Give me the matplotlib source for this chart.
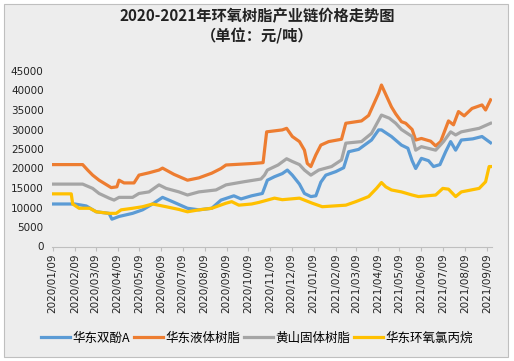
import matplotlib
matplotlib.use("Agg")
import matplotlib.pyplot as plt
import pandas as pd
from matplotlib.patches import Rectangle

plt.rcParams['font.family'] = ['Noto Sans CJK SC', 'DejaVu Sans']

title = "2020-2021年环氧树脂产业链价格走势图\n（单位：元/吨）"
series_names = ["华东双酚A", "华东液体树脂", "黄山固体树脂", "华东环氧氯丙烷"]
colors = ["#5B9BD5", "#ED7D31", "#A5A5A5", "#FFC000"]

bpa_dates = ["2020-01-09", "2020-02-09", "2020-02-25", "2020-03-10", "2020-03-28", "2020-04-01",
             "2020-04-11", "2020-04-30", "2020-05-14", "2020-05-28", "2020-06-11", "2020-06-25",
             "2020-07-16", "2020-08-01", "2020-08-19", "2020-09-01", "2020-09-19", "2020-09-29",
             "2020-10-14", "2020-10-29", "2020-11-05", "2020-11-15", "2020-11-26", "2020-12-03",
             "2020-12-10", "2020-12-20", "2020-12-27", "2021-01-05", "2021-01-12", "2021-01-19",
             "2021-01-26", "2021-02-09", "2021-02-20", "2021-02-27", "2021-03-13", "2021-03-31",
             "2021-04-10", "2021-04-14", "2021-04-28", "2021-05-12", "2021-05-21", "2021-05-27",
             "2021-06-01", "2021-06-09", "2021-06-19", "2021-06-26", "2021-07-05", "2021-07-13",
             "2021-07-20", "2021-07-27", "2021-08-04", "2021-08-20", "2021-09-02", "2021-09-14"]
bpa_values = [10900, 10900, 10400, 8900, 8500, 7000,
              7700, 8500, 9400, 10900, 12600, 11500,
              9800, 9400, 9800, 11900, 13000, 12200,
              13000, 13600, 17000, 17900, 18700, 19600,
              18300, 16000, 13600, 12800, 13000, 16500,
              18300, 19200, 20200, 24300, 24900, 27300,
              29900, 29900, 28200, 26000, 25200, 22000,
              20000, 22600, 22000, 20500, 21000, 24300,
              26900, 24700, 27300, 27600, 28200, 26600]

liq_dates = ["2020-01-09", "2020-02-20", "2020-02-27", "2020-03-05", "2020-03-14", "2020-03-31",
             "2020-04-08", "2020-04-11", "2020-04-18", "2020-05-02", "2020-05-09", "2020-05-23",
             "2020-06-06", "2020-06-11", "2020-06-27", "2020-07-16", "2020-08-01", "2020-08-19",
             "2020-09-01", "2020-09-08", "2020-10-17", "2020-10-30", "2020-11-04", "2020-11-26",
             "2020-12-02", "2020-12-10", "2020-12-20", "2020-12-27", "2020-12-31", "2021-01-05",
             "2021-01-12", "2021-01-19", "2021-01-30", "2021-02-17", "2021-02-23", "2021-03-17",
             "2021-03-27", "2021-04-10", "2021-04-14", "2021-04-20", "2021-04-28", "2021-05-04",
             "2021-05-12", "2021-05-18", "2021-05-27", "2021-06-01", "2021-06-09", "2021-06-22",
             "2021-06-29", "2021-07-06", "2021-07-17", "2021-07-24", "2021-07-31", "2021-08-08",
             "2021-08-19", "2021-09-02", "2021-09-07", "2021-09-14"]
liq_values = [21000, 21000, 19600, 18300, 17000, 15100,
              15300, 17000, 16300, 16300, 18300, 18900,
              19600, 20100, 18500, 17000, 17600, 18800,
              20000, 20900, 21300, 21500, 29400, 29900,
              30300, 28200, 26900, 24700, 21300, 20500,
              23500, 26000, 26900, 27500, 31600, 32200,
              33600, 39300, 41400, 39000, 35800, 34000,
              32000, 31600, 30000, 27300, 27700, 27000,
              25800, 26900, 32200, 31200, 34600, 33500,
              35400, 36300, 35000, 37600]

sol_dates = ["2020-01-09", "2020-02-20", "2020-03-05", "2020-03-14", "2020-03-28", "2020-04-04",
             "2020-04-11", "2020-04-30", "2020-05-09", "2020-05-23", "2020-06-06", "2020-06-16",
             "2020-07-04", "2020-07-16", "2020-08-01", "2020-08-25", "2020-09-08", "2020-10-03",
             "2020-10-27", "2020-11-01", "2020-11-05", "2020-11-20", "2020-12-02", "2020-12-10",
             "2020-12-20", "2020-12-27", "2021-01-05", "2021-01-16", "2021-02-03", "2021-02-17",
             "2021-02-23", "2021-03-17", "2021-03-31", "2021-04-14", "2021-04-25", "2021-05-04",
             "2021-05-12", "2021-05-27", "2021-06-01", "2021-06-09", "2021-06-29", "2021-07-10",
             "2021-07-20", "2021-07-27", "2021-08-04", "2021-08-29", "2021-09-14"]
sol_values = [16000, 16000, 14900, 13600, 12400, 11900,
              12600, 12600, 13600, 14000, 15800, 14900,
              14000, 13200, 14000, 14500, 15800, 16600,
              17300, 18300, 19600, 20900, 22500, 21800,
              21000, 19600, 18300, 19600, 20500, 22200,
              26500, 26900, 29000, 33700, 32900, 31600,
              30000, 28200, 24700, 25600, 24700, 26900,
              29400, 28600, 29400, 30300, 31600]

ech_dates = ["2020-01-09", "2020-02-04", "2020-02-06", "2020-02-15", "2020-03-01", "2020-03-10",
             "2020-03-28", "2020-04-07", "2020-04-14", "2020-04-30", "2020-05-14", "2020-05-28",
             "2020-06-16", "2020-07-04", "2020-07-16", "2020-08-01", "2020-08-19", "2020-09-08",
             "2020-09-16", "2020-09-26", "2020-10-14", "2020-10-24", "2020-11-15", "2020-11-26",
             "2020-12-20", "2021-01-07", "2021-01-21", "2021-02-23", "2021-03-09", "2021-03-27",
             "2021-04-07", "2021-04-14", "2021-04-20", "2021-04-28", "2021-05-12", "2021-05-27",
             "2021-06-05", "2021-06-29", "2021-07-09", "2021-07-17", "2021-07-27", "2021-08-04",
             "2021-08-29", "2021-09-07", "2021-09-12", "2021-09-14"]
ech_values = [13500, 13500, 10900, 9800, 9800, 8900,
              8500, 8500, 9400, 9800, 10200, 10900,
              10200, 9500, 8900, 9400, 9800, 11100,
              11500, 10600, 10900, 11300, 12400, 12000,
              12400, 11100, 10200, 10600, 11500, 12800,
              14900, 16400, 15300, 14500, 14000, 13200,
              12800, 13200, 14900, 14700, 12800, 14000,
              14900, 16600, 20500, 20500]

tick_dates = pd.date_range("2020-01-01", "2021-09-01", freq="MS") + pd.Timedelta(days=8)
y_ticks = list(range(0, 45001, 5000))

fig = plt.figure(figsize=(5.14, 3.61), dpi=100)
fig.patch.set_facecolor("white")
bg = Rectangle((4 / 514, 4 / 361), 504 / 514, 353 / 361, transform=fig.transFigure,
               facecolor="#EDEDED", edgecolor="#BFBFBF", linewidth=0.8, zorder=-10)
fig.add_artist(bg)

ax = fig.add_axes([52 / 514, 1 - 246.5 / 361, 440 / 514, 175.5 / 361])
ax.set_facecolor("none")
ax.set_zorder(5)

all_dates = [bpa_dates, liq_dates, sol_dates, ech_dates]
all_values = [bpa_values, liq_values, sol_values, ech_values]
for d, v, name, c in zip(all_dates, all_values, series_names, colors):
    ax.plot(pd.to_datetime(d), v, color=c, linewidth=2.3, label=name, solid_joinstyle="round")

ax.set_ylim(0, 45000)
ax.set_yticks(y_ticks)
ax.set_yticklabels([str(t) for t in y_ticks], fontsize=7.5, family="DejaVu Sans", color="#222222")
ax.set_xlim(pd.Timestamp("2020-01-08"), pd.Timestamp("2021-09-16"))
ax.set_xticks(tick_dates)
ax.set_xticklabels([t.strftime("%Y/%m/%d") for t in tick_dates], rotation=90, fontsize=7.5,
                   family="DejaVu Sans", color="#222222")

for s in ["top", "right", "left"]:
    ax.spines[s].set_visible(False)
ax.spines["bottom"].set_color("#BFBFBF")
ax.spines["bottom"].set_linewidth(0.8)
ax.tick_params(axis="y", length=0, pad=6)
ax.tick_params(axis="x", length=3, color="#BFBFBF", direction="out", pad=2)

fig.text(0.5, 1 - 26 / 361, title, ha="center", va="center", fontsize=11, fontweight="bold",
         color="#222222", linespacing=1.3)

fig.legend(loc="center", bbox_to_anchor=(0.5, 1 - 338 / 361), ncol=4, frameon=False,
           fontsize=9, handlelength=2.3, handletextpad=0.2, columnspacing=0.3)

fig.savefig("out.png", dpi=100)
